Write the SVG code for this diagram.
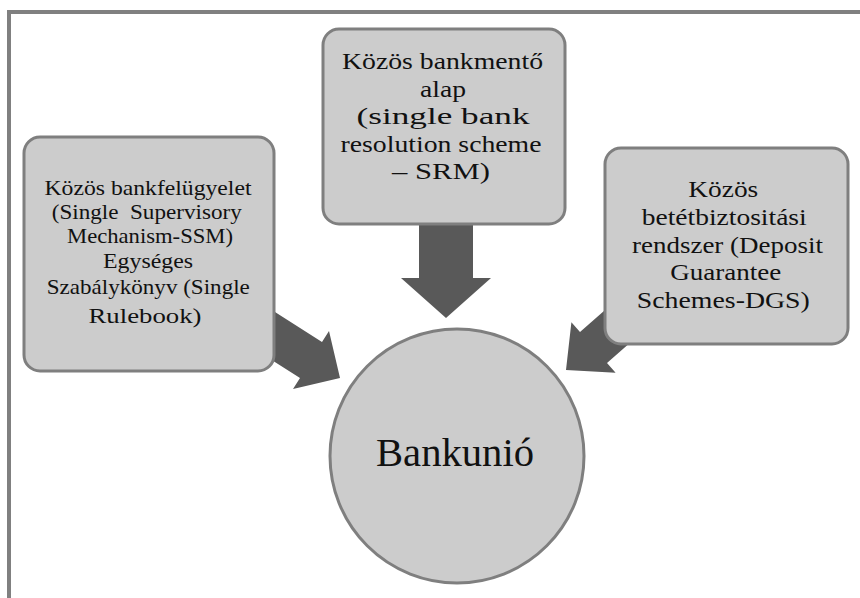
<svg xmlns="http://www.w3.org/2000/svg" width="860" height="598" viewBox="0 0 860 598">
<style>
.box{fill:#cccccc;stroke:#7f7f7f;stroke-width:3}
.arrow{fill:#595959;stroke:none}
.frame{stroke:#808080;stroke-width:4;fill:none}
.lbl{font-family:"Times New Roman","Liberation Serif",Tinos,Times,serif;fill:#111111;text-anchor:middle}
.t{font-size:23px}
.s{font-size:21px}
.big{font-size:41px}
</style>
<rect width="860" height="598" fill="#ffffff"/>
<g id="frame">
<path class="frame" d="M9 600 V12 H862"/>
</g>
<g id="connectors">
<polygon class="arrow" points="419,215 473,215 473,278 491,278 446,318 401,278 419,278"/>
<polygon class="arrow" points="254.6,299 322,342 329,331 340,378 293,389 300,378 232.6,335"/>
<polygon class="arrow" points="625,292.4 580,332 571.4,322.3 566,370 615.6,372.8 607,363 652,323.4"/>
</g>
<g id="node-srm" class="lbl">
<rect class="box" x="323" y="29" width="242" height="195" rx="16"/>
<text class="t" x="442.5" y="69" textLength="201" lengthAdjust="spacingAndGlyphs">Közös bankmentő</text>
<text class="t" x="443" y="97" textLength="46" lengthAdjust="spacingAndGlyphs">alap</text>
<text class="t" x="443" y="124" textLength="173" lengthAdjust="spacingAndGlyphs">(single bank</text>
<text class="t" x="441" y="152" textLength="201" lengthAdjust="spacingAndGlyphs">resolution scheme</text>
<text class="t" x="441" y="179" textLength="98" lengthAdjust="spacingAndGlyphs">– SRM)</text>
</g>
<g id="node-ssm" class="lbl">
<rect class="box" x="24" y="137" width="250" height="234" rx="16"/>
<text class="s" x="148" y="195" textLength="207" lengthAdjust="spacingAndGlyphs">Közös bankfelügyelet</text>
<text class="s" x="146.7" y="219" textLength="190" lengthAdjust="spacingAndGlyphs" xml:space="preserve">(Single  Supervisory</text>
<text class="s" x="150" y="243" textLength="166" lengthAdjust="spacingAndGlyphs">Mechanism-SSM)</text>
<text class="s" x="148" y="268" textLength="90" lengthAdjust="spacingAndGlyphs">Egységes</text>
<text class="s" x="148.3" y="294" textLength="203" lengthAdjust="spacingAndGlyphs">Szabálykönyv (Single</text>
<text class="s" x="145" y="323" textLength="113" lengthAdjust="spacingAndGlyphs">Rulebook)</text>
</g>
<g id="node-dgs" class="lbl">
<rect class="box" x="605" y="148" width="243" height="196" rx="16"/>
<text class="t" x="723.3" y="197" textLength="70" lengthAdjust="spacingAndGlyphs">Közös</text>
<text class="t" x="724.2" y="225" textLength="165" lengthAdjust="spacingAndGlyphs">betétbiztositási</text>
<text class="t" x="727.5" y="253" textLength="191" lengthAdjust="spacingAndGlyphs">rendszer (Deposit</text>
<text class="t" x="725.8" y="280" textLength="111" lengthAdjust="spacingAndGlyphs">Guarantee</text>
<text class="t" x="723.3" y="308" textLength="173" lengthAdjust="spacingAndGlyphs">Schemes-DGS)</text>
</g>
<g id="node-bankunio" class="lbl">
<circle class="box" cx="457" cy="456" r="127"/>
<text class="big" x="455" y="466" textLength="158" lengthAdjust="spacingAndGlyphs">Bankunió</text>
</g>
</svg>
